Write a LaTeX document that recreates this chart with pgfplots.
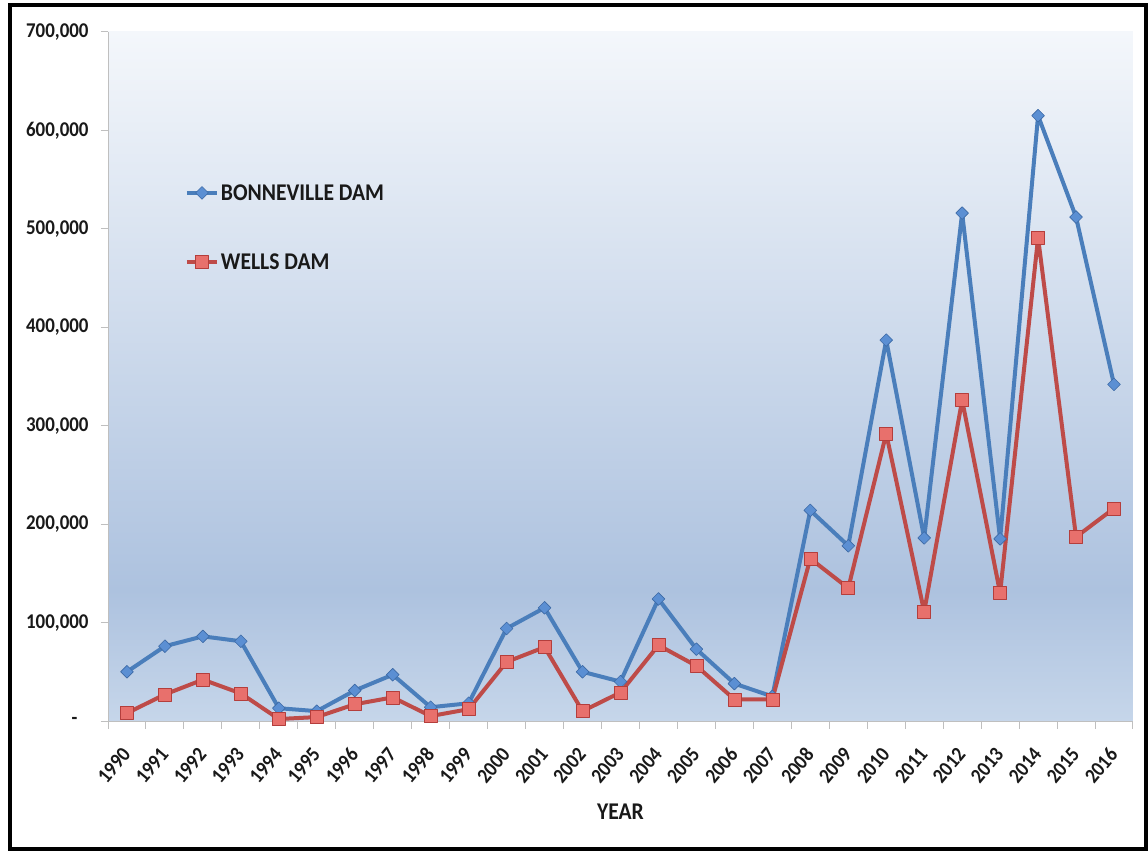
\documentclass[border=0pt]{standalone}
\usepackage{fontspec}
\setmainfont{Carlito}[FakeStretch=0.9]
\usepackage{pgfplots}
\pgfplotsset{compat=1.18}
\definecolor{blueline}{RGB}{74,126,187}
\definecolor{bluefill}{RGB}{91,143,211}
\definecolor{bluedark}{RGB}{60,105,165}
\definecolor{redline}{RGB}{190,75,72}
\definecolor{redfill}{RGB}{232,112,108}
\definecolor{reddark}{RGB}{180,62,60}
\definecolor{axisgray}{RGB}{191,191,191}
\definecolor{textc}{RGB}{25,25,25}
\definecolor{bgtop}{RGB}{244,247,251}
\definecolor{bgmid}{RGB}{173,194,223}
\definecolor{bgbot}{RGB}{198,214,234}
\pgfdeclareverticalshading{plotbg}{100bp}{color(0bp)=(bgbot); color(25bp)=(bgbot); color(34.5bp)=(bgmid); color(75bp)=(bgtop); color(100bp)=(bgtop)}
\begin{document}
\begin{tikzpicture}
\fill[white] (0,0) rectangle (1148bp,851bp);
\begin{axis}[
  at={(108bp,130bp)}, anchor=south west,
  scale only axis, width=1025bp, height=689bp,
  xmin=-0.5, xmax=26.5, ymin=0, ymax=700000,
  axis x line*=bottom, axis y line*=left,
  axis line style={draw=axisgray, line width=1bp, -},
  axis background/.style={shading=plotbg},
  /pgf/number format/assume math mode=true,
  scaled y ticks=false,
  tick align=outside,
  major tick length=7bp, minor tick length=8bp,
  major x tick style={draw=none},
  minor x tick style={draw=axisgray, line width=1bp},
  y tick style={draw=axisgray, line width=1bp},
  xtick={0,...,26},
  xticklabels={1990,1991,1992,1993,1994,1995,1996,1997,1998,1999,2000,2001,2002,2003,2004,2005,2006,2007,2008,2009,2010,2011,2012,2013,2014,2015,2016},
  minor xtick={-0.5,0.5,...,26.5},
  ytick={0,100000,200000,300000,400000,500000,600000,700000},
  yticklabels={{-\hspace*{11bp}},{100,000},{200,000},{300,000},{400,000},{500,000},{600,000},{700,000}},
  yticklabel style={font=\bfseries\fontsize{21bp}{21bp}\selectfont, text=textc, xshift=-9bp},
  xticklabel style={xshift=0bp, yshift=-22bp, rotate=50, anchor=east, font=\bfseries\fontsize{21bp}{21bp}\selectfont, text=textc, inner sep=1bp},
  xlabel={YEAR},
  xlabel style={at={(axis description cs:0.5,-0.132)}, anchor=center, font=\bfseries\fontsize{24bp}{24bp}\selectfont, text=textc},
  legend style={at={(0.072,0.785)}, anchor=north west, draw=none, fill=none, row sep=48bp,
    font=\bfseries\fontsize{24bp}{24bp}\selectfont, text=textc},
  legend cell align=left,
  legend image code/.code={\draw[#1, mark repeat=2, mark phase=2] plot coordinates {(0bp,0bp)(15bp,0bp)(30bp,0bp)};},
]
\addplot[color=blueline, line width=4bp, line join=round, mark=square*, mark size=4.5bp,
  mark options={rotate=45, fill=bluefill, draw=bluedark, line width=0.6bp}]
  coordinates {(0,50000)(1,76000)(2,86000)(3,81000)(4,13000)(5,10000)(6,31000)(7,47000)(8,14000)(9,18000)(10,94000)(11,115000)(12,50000)(13,40000)(14,124000)(15,73000)(16,38000)(17,25000)(18,214000)(19,178000)(20,387000)(21,186000)(22,516000)(23,185000)(24,615000)(25,512000)(26,342000)};
\addlegendentry{BONNEVILLE DAM}
\addplot[color=redline, line width=4bp, line join=round, mark=square*, mark size=6.5bp,
  mark options={fill=redfill, draw=reddark, line width=0.6bp}]
  coordinates {(0,8000)(1,27000)(2,42000)(3,28000)(4,2000)(5,4000)(6,17000)(7,24000)(8,5000)(9,12000)(10,60000)(11,75000)(12,10000)(13,29000)(14,77000)(15,56000)(16,22000)(17,22000)(18,165000)(19,135000)(20,292000)(21,111000)(22,326000)(23,130000)(24,491000)(25,187000)(26,216000)};
\addlegendentry{WELLS DAM}
\end{axis}
\draw[black, line width=4bp] (9.5bp,2bp) rectangle (1146bp,846bp);
\pgfresetboundingbox
\useasboundingbox (0,0) rectangle (1148bp,851bp);
\end{tikzpicture}
\end{document}
